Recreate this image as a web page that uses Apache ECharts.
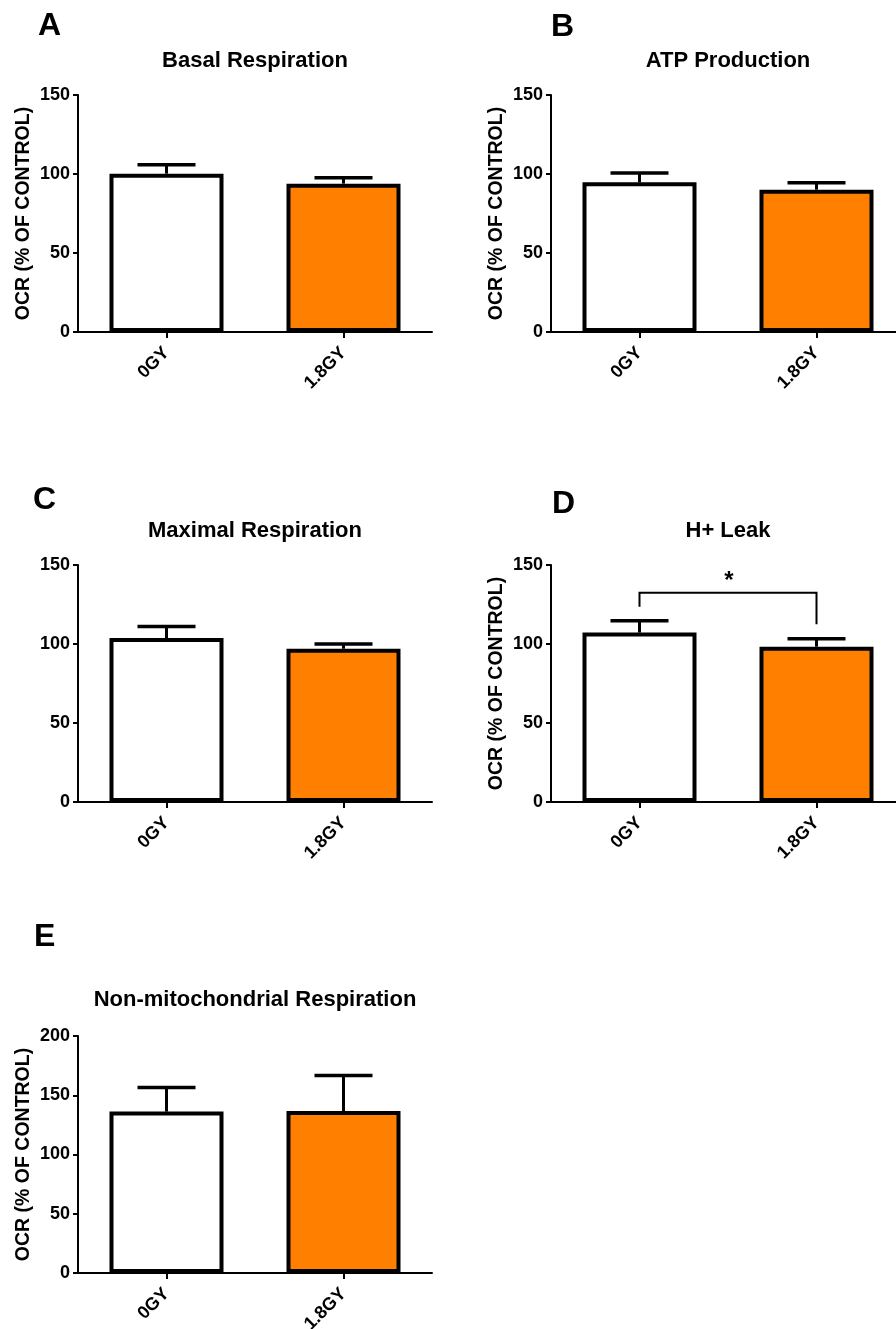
<!DOCTYPE html>
<html>
<head>
<meta charset="utf-8">
<script src="https://cdn.jsdelivr.net/npm/echarts@6/dist/echarts.min.js"></script>
<style>
html,body{margin:0;padding:0;background:#fff;}
#chart{width:896px;height:1329px;}
</style>
</head>
<body>
<div id="chart"></div>
<script>
// ---- data ----
const categories = ['0GY', '1.8GY'];
const panelLetters = ['A', 'B', 'C', 'D', 'E'];
const panelTitles = ['Basal Respiration', 'ATP Production', 'Maximal Respiration', 'H+ Leak', 'Non-mitochondrial Respiration'];
const yAxisName = 'OCR (% OF CONTROL)';
const showYName = [true, true, false, true, true];
const yMax = [150, 150, 150, 150, 200];
const yInterval = [50, 50, 50, 50, 50];
const basalMean = [100.2, 93.9];
const basalErr = [5.7, 3.8];
const atpMean = [94.7, 90.1];
const atpErr = [5.9, 4.4];
const maximalMean = [103.8, 97.0];
const maximalErr = [7.3, 3.0];
const leakMean = [107.2, 98.3];
const leakErr = [7.5, 5.1];
const nonMitoMean = [136.2, 136.7];
const nonMitoErr = [20.3, 29.9];
const panelMeans = [basalMean, atpMean, maximalMean, leakMean, nonMitoMean];
const panelErrs = [basalErr, atpErr, maximalErr, leakErr, nonMitoErr];
// significance bracket on panel D: [bracket height, left drop end, right drop end]
const sigBracket = [132.5, 123.6, 112.5];
const sigLabel = '*';

// ---- layout ----
const FONT = '"Liberation Sans", Arial, sans-serif';
const gridPos = [
  {left: 78, top: 95}, {left: 551, top: 95},
  {left: 78, top: 565}, {left: 551, top: 565},
  {left: 78, top: 1036}
];
const titlePos = [[255, 61], [728, 61], [255, 531], [728, 531], [255, 1000]];
const letterPos = [[38, 26], [551, 27], [33, 500], [552, 504], [34, 937]];
const barColors = ['#ffffff', '#ff8000'];

const grids = [], xAxes = [], yAxes = [], series = [], graphics = [];
for (let p = 0; p < 5; p++) {
  grids.push({left: gridPos[p].left, top: gridPos[p].top, width: 354, height: 237,
    containLabel: false, outerBoundsMode: 'none'});
  xAxes.push({
    type: 'category', gridIndex: p, data: categories,
    axisLine: {show: true, lineStyle: {color: '#000', width: 2}},
    axisTick: {show: true, alignWithLabel: true, length: 6, lineStyle: {color: '#000', width: 2}},
    axisLabel: {rotate: 45, margin: 18, color: '#000', fontWeight: 'bold', fontSize: 18, fontFamily: FONT},
    splitLine: {show: false}
  });
  yAxes.push({
    type: 'value', gridIndex: p, min: 0, max: yMax[p], interval: yInterval[p],
    name: showYName[p] ? yAxisName : '', nameLocation: 'middle', nameGap: 44, nameRotate: 90,
    nameTextStyle: {color: '#000', fontWeight: 'bold', fontSize: 19.5, fontFamily: FONT},
    axisLine: {show: true, lineStyle: {color: '#000', width: 2}},
    axisTick: {show: true, length: 5, lineStyle: {color: '#000', width: 2}},
    axisLabel: {margin: 8, color: '#000', fontWeight: 'bold', fontSize: 18, fontFamily: FONT},
    splitLine: {show: false}
  });
  series.push({
    type: 'bar', xAxisIndex: p, yAxisIndex: p, barWidth: 114,
    data: panelMeans[p].map((v, i) => ({value: v, itemStyle: {color: barColors[i]}})),
    itemStyle: {borderColor: '#000', borderWidth: 4},
    z: 2, silent: true
  });
  series.push({
    type: 'custom', xAxisIndex: p, yAxisIndex: p, z: 3, silent: true,
    encode: {x: 0, y: 1},
    data: panelMeans[p].map((v, i) => [i, v, panelErrs[p][i]]),
    renderItem: function (params, api) {
      const x = api.value(0), m = api.value(1), e = api.value(2);
      const b = api.coord([x, m]);
      const t = api.coord([x, m + e]);
      return {
        type: 'group',
        children: [
          {type: 'line', shape: {x1: b[0], y1: b[1], x2: t[0], y2: t[1]}, style: {stroke: '#000', lineWidth: 3}},
          {type: 'line', shape: {x1: t[0] - 29, y1: t[1], x2: t[0] + 29, y2: t[1]}, style: {stroke: '#000', lineWidth: 3.5}}
        ]
      };
    }
  });
  graphics.push({type: 'text', x: titlePos[p][0], y: titlePos[p][1],
    style: {text: panelTitles[p], font: 'bold 22px ' + FONT, fill: '#000', textAlign: 'center', textVerticalAlign: 'middle'}});
  graphics.push({type: 'text', x: letterPos[p][0], y: letterPos[p][1],
    style: {text: panelLetters[p], font: 'bold 32px ' + FONT, fill: '#000', textAlign: 'left', textVerticalAlign: 'middle'}});
}
// significance bracket on panel D (index 3)
series.push({
  type: 'custom', xAxisIndex: 3, yAxisIndex: 3, z: 4, silent: true,
  encode: {x: 0, y: 1},
  data: [[0, sigBracket[0], sigBracket[1], sigBracket[2]]],
  renderItem: function (params, api) {
    const h = api.value(1), l = api.value(2), r = api.value(3);
    const pl = api.coord([0, h]), pr = api.coord([1, h]);
    const dl = api.coord([0, l]), dr = api.coord([1, r]);
    return {
      type: 'group',
      children: [
        {type: 'polyline', shape: {points: [[dl[0], dl[1]], [pl[0], pl[1]], [pr[0], pr[1]], [dr[0], dr[1]]]},
          style: {stroke: '#000', lineWidth: 2, fill: null}},
        {type: 'text', x: (pl[0] + pr[0]) / 2 + 1, y: pl[1] + 1,
          style: {text: sigLabel, font: 'bold 24px ' + FONT, fill: '#000', textAlign: 'center', textVerticalAlign: 'bottom'}}
      ]
    };
  }
});

const chart = echarts.init(document.getElementById('chart'), null, {renderer: 'canvas'});
chart.setOption({
  animation: false,
  backgroundColor: '#fff',
  grid: grids, xAxis: xAxes, yAxis: yAxes, series: series, graphic: graphics
});
</script>
</body>
</html>
